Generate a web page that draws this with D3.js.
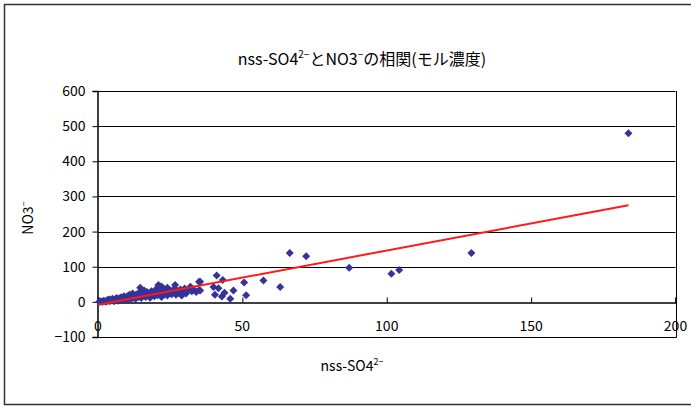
<!DOCTYPE html>
<html>
<head>
<meta charset="utf-8">
<script src="https://cdn.jsdelivr.net/npm/d3@7"></script>
<style>
  body { margin: 0; background: #fff; }
  text { font-family: "Noto Sans CJK JP", "Noto Sans", sans-serif; fill: #000; }
</style>
</head>
<body>
<div id="chart"></div>
<script>
// nss-SO4 (x) vs NO3 (y)
const so4 = [0.5,1,1.5,2,2.5,3,3,3.5,4,4,4.5,5,5,5.5,6,6,6.5,7,7,7.5,8,8,8.5,9,9,9.5,10,10,10.5,11,11,11.5,12,12,12.5,13,13,13.5,14,14.5,14.6,15,15,15.5,16,16,16.5,17,17,17.5,18,18,18.5,19,19.5,20,20,20.5,20.9,21,21.5,22,22,22.5,23,23,23.5,24,24,24.5,25,25.5,26,26.5,26.7,27,27.5,28,28.5,29,29.5,30,30.5,31,32,32.5,33,34,35,35,35.4,35.4,40,40.5,41.1,41.7,42.9,43.2,43.8,45.8,46.9,50.6,51.3,57.3,63.1,66.4,72.1,87,101.6,104.3,129.3,183.7];
const no3 = [1,2,0,3,1,4,1,6,2,7,4,5,9,2,8,4,11,6,3,10,13,7,5,12,16,9,14,6,18,11,20,8,15,24,12,19,9,22,14,28,40,17,11,25,20,32,14,23,28,18,26,12,30,21,16,27,35,19,48,24,31,14,44,26,21,36,29,18,40,25,32,22,28,38,48,20,30,25,35,18,28,38,24,32,43,30,36,28,57,33,57,32,42,20,75,39,15,62,26,9,32,55,19,61,42,139,130,97,80,91,139,480];

// linear trend line
const trendX = [0, 183.7];
const trendY = [-8, 275];

const xTicks = [0, 50, 100, 150, 200];
const yTicks = [-100, 0, 100, 200, 300, 400, 500, 600];

const width = 691, height = 407;

const svg = d3.select("#chart").append("svg")
  .attr("width", width)
  .attr("height", height);

// chart border (right edge runs off the picture)
svg.append("path")
  .attr("d", `M${width + 2},4.5 H4.5 V404.5 H${width + 2}`)
  .attr("fill", "none")
  .attr("stroke", "#333")
  .attr("stroke-width", 1.5);

const x = d3.scaleLinear().domain([0, 200]).range([98, 675.5]);
const y = d3.scaleLinear().domain([-100, 600]).range([337, 91]);

// grid lines
svg.append("g")
  .selectAll("line")
  .data(yTicks.filter(d => d > 0))
  .join("line")
  .attr("x1", x(0)).attr("x2", x(200))
  .attr("y1", d => Math.round(y(d)) + 0.5)
  .attr("y2", d => Math.round(y(d)) + 0.5)
  .attr("stroke", "#000");

// plot area border: right and bottom
svg.append("path")
  .attr("d", `M${Math.round(x(200)) + 0.5},${y(600)} V${Math.round(y(-100)) + 0.5} H${x(0)}`)
  .attr("fill", "none")
  .attr("stroke", "#000");

// Y axis
const yAxis = svg.append("g")
  .attr("transform", `translate(${Math.round(x(0)) - 0.5},0)`)
  .call(d3.axisLeft(y).tickValues(yTicks).tickSize(5).tickPadding(7));
yAxis.selectAll("text").style("font-size", "14px").attr("font-family", "'Noto Sans CJK JP', sans-serif");
yAxis.select(".domain").attr("stroke", "#000").attr("stroke-width", 1.5);

// X axis crosses at y = 0
const xAxis = svg.append("g")
  .attr("transform", `translate(0,${Math.round(y(0)) + 0.5})`)
  .call(d3.axisTop(x).tickValues(xTicks).tickSize(5).tickFormat(""));
xAxis.select(".domain").attr("stroke", "#000").attr("stroke-width", 1.5);

// x tick labels sit near the bottom of the plot
svg.append("g")
  .selectAll("text")
  .data(xTicks)
  .join("text")
  .attr("x", d => x(d))
  .attr("y", 331)
  .attr("text-anchor", "middle")
  .style("font-size", "14px")
  .text(d => d);

// points: square diamonds
const pts = so4.map((d, i) => ({x: d, y: no3[i]}));
svg.append("g")
  .selectAll("path")
  .data(pts)
  .join("path")
  .attr("transform", d => `translate(${x(d.x)},${y(d.y)}) rotate(45)`)
  .attr("d", d3.symbol(d3.symbolSquare, 32))
  .attr("fill", "#333399");

// trend line
svg.append("line")
  .attr("x1", x(trendX[0])).attr("y1", y(trendY[0]))
  .attr("x2", x(trendX[1])).attr("y2", y(trendY[1]))
  .attr("stroke", "#ff1a1a")
  .attr("stroke-width", 2);

// title
const title = svg.append("text")
  .attr("x", 362)
  .attr("y", 65)
  .attr("text-anchor", "middle")
  .style("font-size", "16px");
title.append("tspan").text("nss-SO4");
title.append("tspan").attr("dy", -7).style("font-size", "10px").text("2−");
title.append("tspan").attr("dy", 7).text("とNO3");
title.append("tspan").attr("dy", -7).style("font-size", "10px").text("−");
title.append("tspan").attr("dy", 7).text("の相関(モル濃度)");

// x axis title
const xt = svg.append("text")
  .attr("x", 352)
  .attr("y", 371)
  .attr("text-anchor", "middle")
  .style("font-size", "14px");
xt.append("tspan").text("nss-SO4");
xt.append("tspan").attr("dy", -6).style("font-size", "9px").text("2−");

// y axis title
const yt = svg.append("text")
  .attr("transform", "translate(33,218) rotate(-90)")
  .attr("text-anchor", "middle")
  .style("font-size", "14px");
yt.append("tspan").text("NO3");
yt.append("tspan").attr("dy", -6).style("font-size", "9px").text("−");
</script>
</body>
</html>
